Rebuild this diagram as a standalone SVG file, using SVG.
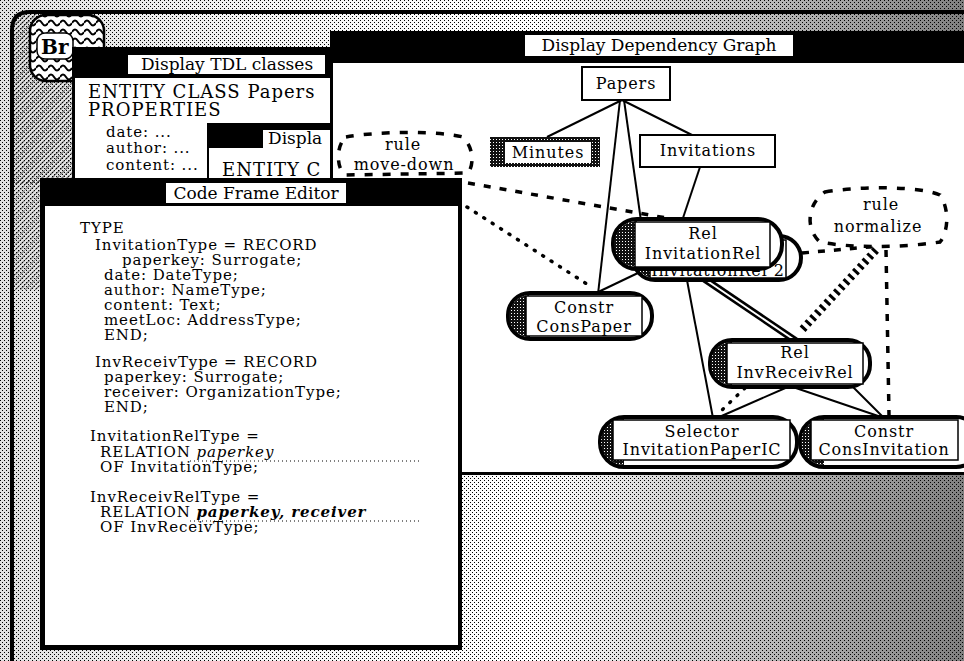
<svg xmlns="http://www.w3.org/2000/svg" width="964" height="661" viewBox="0 0 964 661">
<defs>
<style>
text{font-family:"DejaVu Serif","Liberation Serif",serif;fill:#000}
.lbl{font-size:17px;text-anchor:middle}
.big{font-size:18px;letter-spacing:1px}
.code{font-size:15px;letter-spacing:0.9px}
.nd{font-size:16px;text-anchor:middle;letter-spacing:0.9px}
.ln{stroke:#000;stroke-width:2;fill:none}
.dash{stroke:#000;stroke-width:3.5;stroke-dasharray:7 9;fill:none}
.dot{stroke:#000;stroke-width:3.5;stroke-dasharray:1 9;stroke-linecap:round;fill:none}
.tdash{stroke:#000;stroke-width:8;stroke-dasharray:3 4;fill:none}
.pill{fill:#fff;stroke:#000;stroke-width:4}
.cap{fill:url(#dk)}
.in{fill:#fff;stroke:#000;stroke-width:1.5}
.bub{fill:#fff;stroke:#000;stroke-width:3.5;stroke-dasharray:8 10}
</style>
<pattern id="st" width="4" height="4" patternUnits="userSpaceOnUse">
<rect width="4" height="4" fill="#fff"/>
<rect x="0" y="0" width="1" height="1" fill="#000"/>
<rect x="2" y="2" width="1" height="1" fill="#000"/>
</pattern>
<pattern id="dk" width="3" height="3" patternUnits="userSpaceOnUse">
<rect width="3" height="3" fill="#111"/>
<rect x="1" y="1" width="1" height="1" fill="#fff"/>
</pattern>
<pattern id="hatch" width="5" height="5" patternUnits="userSpaceOnUse">
<path d="M0 5 L5 0" stroke="#000" stroke-width="1.3"/>
</pattern>
<pattern id="wave" width="12" height="9" patternUnits="userSpaceOnUse">
<rect width="12" height="9" fill="#fff"/>
<path d="M0 5 Q3 0 6 5 T12 5" stroke="#000" stroke-width="2" fill="none"/>
</pattern>
<linearGradient id="shade" x1="0" y1="0" x2="1" y2="0">
<stop offset="0" stop-color="#000" stop-opacity="0.12"/>
<stop offset="0.25" stop-color="#000" stop-opacity="0.05"/>
<stop offset="0.55" stop-color="#000" stop-opacity="0"/>
<stop offset="1" stop-color="#000" stop-opacity="0.5"/>
</linearGradient>
</defs>

<g id="background">
<rect width="964" height="661" fill="url(#st)"/>
<rect width="964" height="661" fill="url(#shade)"/>
<rect x="14" y="14" width="58" height="170" fill="url(#hatch)" opacity="0.5"/>
<rect x="14" y="180" width="26" height="110" fill="url(#hatch)" opacity="0.4"/>
<path d="M12 661 V30 Q12 12 30 12 H964" fill="none" stroke="#000" stroke-width="4"/>
</g>

<g id="icon-br">
<rect x="30" y="15" width="74" height="66" rx="16" fill="url(#wave)" stroke="#000" stroke-width="2.5"/>
<rect x="37" y="33" width="36" height="26" rx="8" fill="#fff" stroke="#000" stroke-width="1.5"/>
<text x="41" y="54" font-size="20" font-weight="bold">Br</text>
</g>

<g id="win-tdl">
<rect x="72" y="47" width="263" height="133" fill="#000"/>
<rect x="75" y="78" width="258" height="102" fill="#fff"/>
<rect x="128" y="55" width="197" height="19" fill="#fff"/>
<text class="lbl" x="227" y="70">Display TDL classes</text>
<text class="big" x="88" y="98">ENTITY CLASS Papers</text>
<text class="big" x="88" y="116">PROPERTIES</text>
<text class="code" x="106" y="137">date: ...</text>
<text class="code" x="106" y="153">author: ...</text>
<text class="code" x="106" y="170">content: ...</text>
</g>

<g id="win-displa">
<rect x="207" y="123" width="128" height="57" fill="#000"/>
<rect x="263" y="130" width="72" height="18" fill="#fff"/>
<text x="268" y="144" font-size="17">Displa</text>
<rect x="209" y="148" width="126" height="32" fill="#fff"/>
<text class="big" x="222" y="176">ENTITY C</text>
</g>

<g id="win-dep">
<rect x="330" y="31" width="634" height="444" fill="#000"/>
<rect x="333" y="63" width="631" height="409" fill="#fff"/>
<rect x="525" y="35" width="268" height="21" fill="#fff"/>
<text class="lbl" x="659" y="51">Display Dependency Graph</text>
</g>

<g id="connectors">
<line class="ln" x1="622" y1="100" x2="547" y2="137"/>
<line class="ln" x1="622" y1="100" x2="692" y2="135"/>
<line class="ln" x1="620" y1="100" x2="598" y2="294"/>
<line class="ln" x1="624" y1="100" x2="641" y2="221"/>
<line class="ln" x1="700" y1="167" x2="682" y2="221"/>
<line class="ln" x1="640" y1="272" x2="594" y2="294"/>
<line class="ln" x1="686" y1="275" x2="713" y2="418"/>
<line class="ln" x1="790" y1="386" x2="717" y2="418"/>
<line class="ln" x1="790" y1="386" x2="884" y2="418"/>
<line class="ln" x1="852" y1="386" x2="884" y2="418"/>
<line x1="700" y1="276" x2="796" y2="341" stroke="#000" stroke-width="7"/>
<line x1="700" y1="276" x2="796" y2="341" stroke="#fff" stroke-width="2"/>
<path class="dash" d="M468 183 L672 219"/>
<path class="dot" d="M467 207 L590 286"/>
<path class="dash" d="M802 253 L880 246"/>
<path class="tdash" d="M876 250 L800 332"/>
<path class="dash" d="M886 250 L889 415"/>
<path class="dot" d="M745 388 L722 410"/>
</g>

<g id="node-papers">
<rect x="582" y="67" width="88" height="33" fill="#fff" stroke="#000" stroke-width="2"/>
<text class="nd" x="626" y="89">Papers</text>
</g>

<g id="node-minutes">
<rect x="490" y="137" width="110" height="30" fill="url(#dk)"/>
<rect x="505" y="142" width="86" height="21" fill="#fff"/>
<text class="nd" x="548" y="158">Minutes</text>
</g>

<g id="node-invitations">
<rect x="640" y="135" width="135" height="32" fill="#fff" stroke="#000" stroke-width="2"/>
<text class="nd" x="708" y="156">Invitations</text>
</g>

<g id="rule-move-down">
<path class="bub" d="M346 137 C380 131 440 131 463 137 C474 148 474 165 468 173 L345 175 C336 168 336 145 346 137 Z"/>
<text class="nd" x="403" y="150">rule</text>
<text class="nd" x="404" y="170">move-down</text>
</g>

<g id="rule-normalize">
<path class="bub" d="M825 192 C860 186 920 186 940 195 C950 210 948 232 940 242 C900 248 850 248 820 242 C806 230 806 205 825 192 Z"/>
<text class="nd" x="881" y="210">rule</text>
<text class="nd" x="878" y="232">normalize</text>
</g>

<g id="node-rel-invitationrel-2">
<rect class="pill" x="633" y="236" width="168" height="44" rx="22"/>
<path class="cap" d="M655 238 A20 20 0 0 0 655 278 Z"/>
<rect class="in" x="650" y="240" width="136" height="38"/>
<text class="nd" x="718" y="276">InvitationRel 2</text>
</g>

<g id="node-rel-invitationrel">
<rect class="pill" x="613" y="219" width="169" height="50" rx="24"/>
<path class="cap" d="M637 221 A23 23 0 0 0 637 267 Z"/>
<rect class="in" x="635" y="222" width="135" height="45"/>
<text class="nd" x="703" y="239">Rel</text>
<text class="nd" x="703" y="259">InvitationRel</text>
</g>

<g id="node-constr-conspaper">
<rect class="pill" x="508" y="293" width="144" height="46" rx="22"/>
<path class="cap" d="M530 295 A21 21 0 0 0 530 337 Z"/>
<rect class="in" x="526" y="296" width="116" height="40"/>
<text class="nd" x="584" y="313">Constr</text>
<text class="nd" x="584" y="332">ConsPaper</text>
</g>

<g id="node-rel-invreceivrel">
<rect class="pill" x="710" y="340" width="160" height="47" rx="22"/>
<path class="cap" d="M732 342 A21 21 0 0 0 732 385 Z"/>
<rect class="in" x="727" y="343" width="136" height="41"/>
<text class="nd" x="795" y="358">Rel</text>
<text class="nd" x="795" y="378">InvReceivRel</text>
</g>

<g id="node-selector-invitationpaperic">
<rect class="pill" x="600" y="417" width="197" height="50" rx="24"/>
<path class="cap" d="M624 419 A23 23 0 0 0 624 465 Z"/>
<rect class="in" x="613" y="420" width="177" height="40"/>
<text class="nd" x="702" y="437">Selector</text>
<text class="nd" x="702" y="455">InvitationPaperIC</text>
</g>

<g id="node-constr-consinvitation">
<rect class="pill" x="800" y="417" width="180" height="50" rx="24"/>
<path class="cap" d="M824 419 A23 23 0 0 0 824 465 Z"/>
<rect class="in" x="811" y="420" width="147" height="40"/>
<text class="nd" x="884" y="437">Constr</text>
<text class="nd" x="884" y="455">ConsInvitation</text>
</g>

<g id="win-cfe">
<rect x="40" y="178" width="422" height="472" fill="#000"/>
<rect x="45" y="206" width="413" height="439" fill="#fff"/>
<rect x="166" y="183" width="180" height="20" fill="#fff"/>
<text class="lbl" x="256" y="199">Code Frame Editor</text>
<text class="code" x="80" y="233">TYPE</text>
<text class="code" x="95" y="250">InvitationType = RECORD</text>
<text class="code" x="122" y="265">paperkey: Surrogate;</text>
<text class="code" x="104" y="280">date: DateType;</text>
<text class="code" x="104" y="295">author: NameType;</text>
<text class="code" x="104" y="310">content: Text;</text>
<text class="code" x="104" y="325">meetLoc: AddressType;</text>
<text class="code" x="104" y="340">END;</text>
<text class="code" x="95" y="367">InvReceivType = RECORD</text>
<text class="code" x="104" y="382">paperkey: Surrogate;</text>
<text class="code" x="104" y="397">receiver: OrganizationType;</text>
<text class="code" x="104" y="412">END;</text>
<text class="code" x="90" y="441">InvitationRelType =</text>
<text class="code" x="100" y="457">RELATION <tspan font-style="italic">paperkey</tspan></text>
<text class="code" x="100" y="472">OF InvitationType;</text>
<text class="code" x="90" y="502">InvReceivRelType =</text>
<text class="code" x="100" y="517">RELATION <tspan font-style="italic" font-weight="bold">paperkey, receiver</tspan></text>
<text class="code" x="100" y="532">OF InvReceivType;</text>
<line x1="190" y1="461" x2="420" y2="461" stroke="#000" stroke-width="1" stroke-dasharray="1 3"/>
<line x1="190" y1="521" x2="420" y2="521" stroke="#000" stroke-width="1" stroke-dasharray="1 3"/>
</g>
</svg>
